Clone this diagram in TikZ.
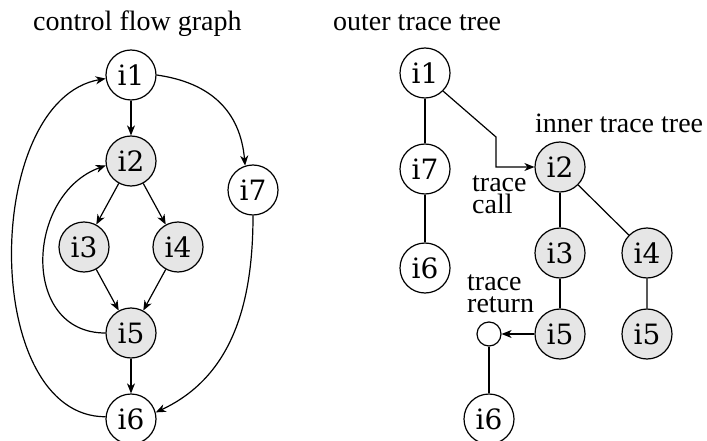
\documentclass[tikz,border=0pt]{standalone}
\usepackage{fontspec}
\setmainfont{Liberation Serif}
\newfontfamily\labelfont{DejaVu Serif}
\usetikzlibrary{arrows.meta,positioning}
\definecolor{hotgray}{RGB}{230,230,230}
\tikzset{
  vertex/.style={circle,draw=black,line width=1.2pt,fill=white,minimum size=50pt,inner sep=0pt,font=\labelfont\fontsize{28}{28}\selectfont},
  hot/.style={vertex,fill=hotgray},
  stub/.style={circle,draw=black,line width=1.2pt,fill=white,minimum size=24pt,inner sep=0pt},
  arr/.style={-{Stealth[length=10pt,width=8pt,inset=3pt]},draw=black,line width=1.2pt},
  link/.style={draw=black,line width=1.2pt},
  caption/.style={anchor=base west,inner sep=0pt,font=\fontsize{28}{22}\selectfont},
  note/.style={anchor=north west,inner sep=0pt,align=left,font=\fontsize{28}{22}\selectfont}
}
\begin{document}
\begin{tikzpicture}[x=1pt,y=1pt]
  \useasboundingbox (0,0) rectangle (707,-441);
  % control flow graph
  \node[caption] (cfgtitle) at (33,-31) {control flow graph};
  \node[vertex] (i1) at (131,-75) {i1};
  \node[hot] (i2) at (131,-161) {i2};
  \node[hot] (i3) at (84,-247) {i3};
  \node[hot] (i4) at (178,-247) {i4};
  \node[hot] (i5) at (131,-333) {i5};
  \node[vertex] (i6) at (131,-419) {i6};
  \node[vertex] (i7) at (253,-190) {i7};
  \draw[arr] (i1) -- (i2);
  \draw[arr] (i2) -- (i3);
  \draw[arr] (i2) -- (i4);
  \draw[arr] (i3) -- (i5);
  \draw[arr] (i4) -- (i5);
  \draw[arr] (i5) -- (i6);
  \draw[arr] (i1.east) to[out=-8,in=95,looseness=1.1] (i7.108);
  \draw[arr] (i7.south) to[out=-90,in=25] (i6.15);
  \draw[arr] (i5.west) to[out=180,in=200,looseness=1.3] (i2.190);
  \draw[arr] (i6.175) to[out=180,in=190,looseness=0.95] (i1.188);
  % outer trace tree
  \node[caption] (outertitle) at (333,-31) {outer trace tree};
  \node[vertex] (o1) at (425,-73) {i1};
  \node[vertex] (o7) at (425,-169) {i7};
  \node[vertex] (o6) at (425,-268) {i6};
  \draw[link] (o1) -- (o7) -- (o6);
  % inner trace tree
  \node[caption] (innertitle) at (535,-133) {inner trace tree};
  \node[hot] (n2) at (560,-167) {i2};
  \node[hot] (n3) at (560,-253) {i3};
  \node[hot] (n4) at (647,-253) {i4};
  \node[hot] (n5) at (560,-334) {i5};
  \node[hot] (m5) at (647,-334) {i5};
  \node[stub] (ret) at (489,-334) {};
  \node[vertex] (r6) at (489,-419) {i6};
  \draw[link] (n2) -- (n3) -- (n5);
  \draw[link] (n2) -- (n4) -- (m5);
  \draw[link] (ret) -- (r6);
  \coordinate (bend) at (496,-137);
  \draw[arr] (o1.-45) -- (bend) |- (n2.west);
  \draw[arr] (n5.west) -- (ret.east);
  \node[note] (calltext) at (472,-176) {trace\\call};
  \node[note] (rettext) at (467,-275) {trace\\return};
\end{tikzpicture}
\end{document}
